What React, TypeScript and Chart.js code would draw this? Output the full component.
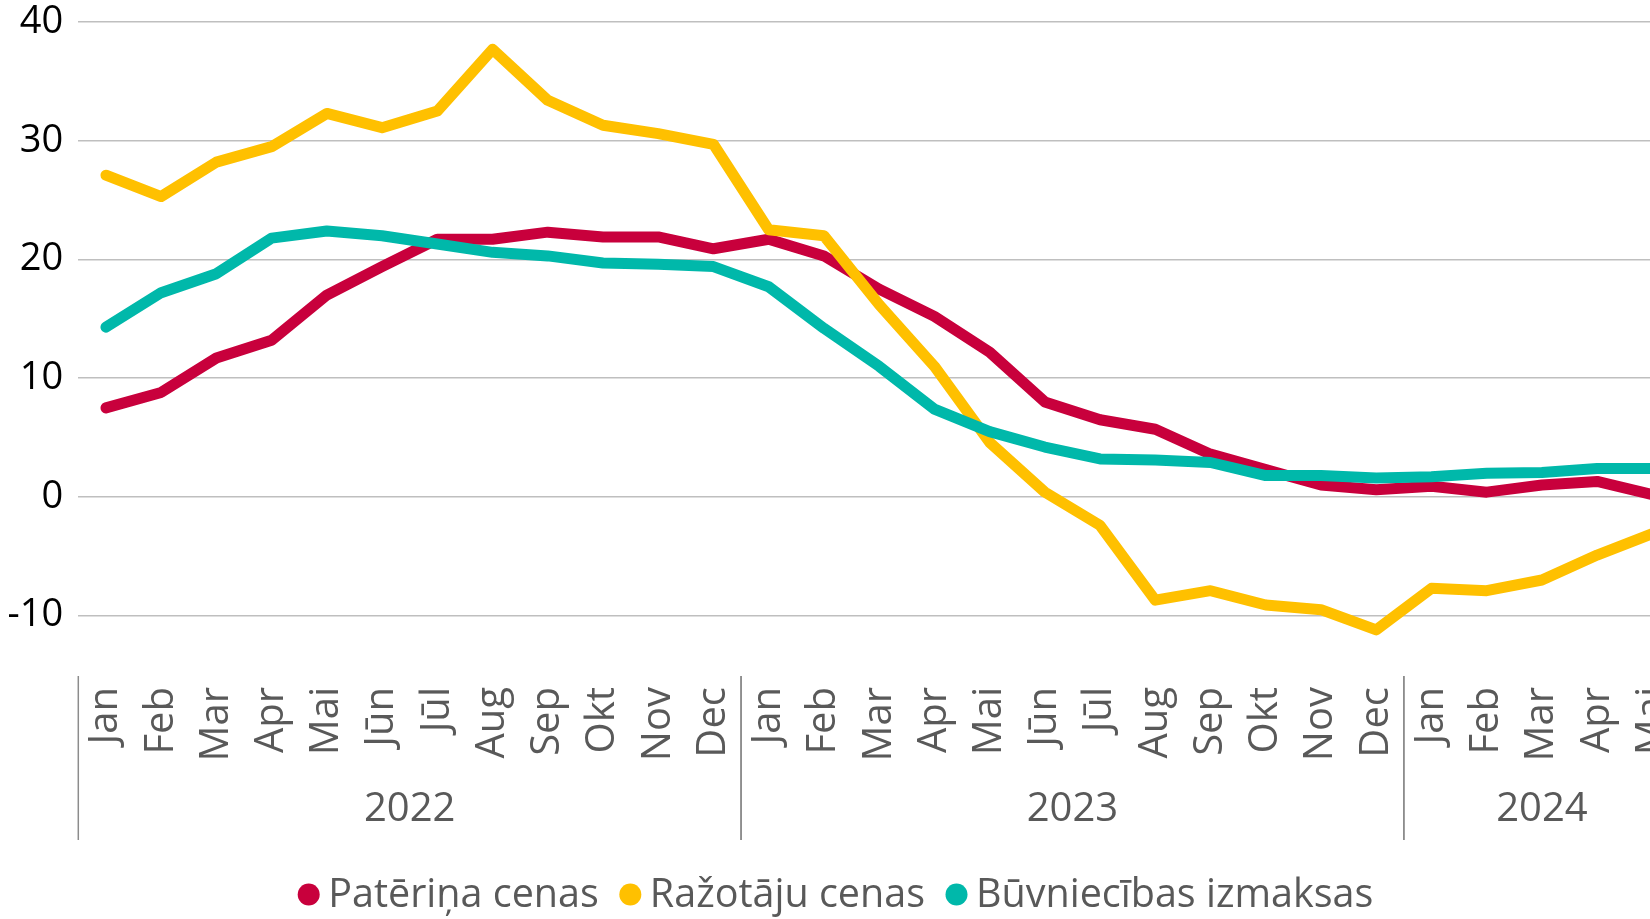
import React, { useEffect, useRef } from 'react';
import { Chart, registerables } from 'chart.js';

Chart.register(...registerables);

const FONT = "'Open Sans', 'Noto Sans', sans-serif";

const months = [
  'Jan', 'Feb', 'Mar', 'Apr', 'Mai', 'Jūn', 'Jūl', 'Aug', 'Sep', 'Okt', 'Nov', 'Dec',
  'Jan', 'Feb', 'Mar', 'Apr', 'Mai', 'Jūn', 'Jūl', 'Aug', 'Sep', 'Okt', 'Nov', 'Dec',
  'Jan', 'Feb', 'Mar', 'Apr', 'Mai',
];
const years = ['2022', '2023', '2024'];
const monthsPerYear = [12, 12, 5];

const consumerPrices = [
  7.5, 8.8, 11.7, 13.2, 17.0, 19.4, 21.7, 21.7, 22.3, 21.9, 21.9, 20.9,
  21.7, 20.3, 17.5, 15.2, 12.2, 8.0, 6.5, 5.7, 3.6, 2.3, 1.0, 0.6,
  0.9, 0.4, 1.0, 1.3, 0.2,
];
const producerPrices = [
  27.1, 25.3, 28.2, 29.5, 32.3, 31.1, 32.5, 37.7, 33.4, 31.3, 30.6, 29.7,
  22.5, 22.0, 16.2, 11.0, 4.6, 0.4, -2.4, -8.7, -7.9, -9.1, -9.5, -11.2,
  -7.7, -7.9, -7.0, -4.9, -3.1,
];
const constructionCosts = [
  14.3, 17.2, 18.8, 21.8, 22.4, 22.0, 21.3, 20.6, 20.3, 19.7, 19.6, 19.4,
  17.7, 14.2, 11.0, 7.4, 5.5, 4.2, 3.2, 3.1, 2.9, 1.8, 1.8, 1.6,
  1.7, 2.0, 2.05, 2.4, 2.4,
];
const yTicks = [-10, 0, 10, 20, 30, 40];
const yMin = -15;
const yMax = 40;

const seriesNames = ['Patēriņa cenas', 'Ražotāju cenas', 'Būvniecības izmaksas'];
const seriesColors = ['#C8003C', '#FFC000', '#00B8AA'];

const groupsAndLegend = {
  id: 'groupsAndLegend',
  afterDraw(chart: any) {
    const ctx = chart.ctx;
    const xs = chart.scales.x;
    const area = chart.chartArea;
    const band = xs.getPixelForValue(1) - xs.getPixelForValue(0);
    ctx.save();
    // year groups
    let start = 0;
    ctx.strokeStyle = '#8C8C8C';
    ctx.lineWidth = 1.5;
    ctx.font = `40px ${FONT}`;
    ctx.fillStyle = '#595959';
    ctx.textAlign = 'center';
    ctx.textBaseline = 'alphabetic';
    years.forEach((yr, i) => {
      const n = monthsPerYear[i];
      const left = xs.getPixelForValue(start) - band / 2;
      const right = xs.getPixelForValue(start + n - 1) + band / 2;
      [left, right].forEach((px) => {
        ctx.beginPath();
        ctx.moveTo(px, area.bottom + 1);
        ctx.lineTo(px, area.bottom + 165);
        ctx.stroke();
      });
      ctx.fillText(yr, (left + right) / 2, area.bottom + 146);
      start += n;
    });
    // legend
    ctx.font = `39.5px ${FONT}`;
    ctx.textAlign = 'left';
    const r = 11;
    const markGap = 19.5;
    const itemGap = 20.5;
    const widths = seriesNames.map((s) => ctx.measureText(s).width);
    let total = 0;
    widths.forEach((w, i) => {
      total += r + markGap + w + (i < widths.length - 1 ? itemGap : 0);
    });
    const center = 835.5;
    let x = center - total / 2;
    const cy = 894.5;
    seriesNames.forEach((s, i) => {
      const cx = x + r;
      ctx.beginPath();
      ctx.arc(cx, cy, r, 0, Math.PI * 2);
      ctx.fillStyle = seriesColors[i];
      ctx.fill();
      ctx.fillStyle = '#595959';
      ctx.fillText(s, cx + markGap, 907);
      x = cx + markGap + widths[i] + itemGap;
    });
    ctx.restore();
  },
};

export default function App() {
  const ref = useRef<HTMLCanvasElement | null>(null);
  useEffect(() => {
    if (!ref.current) return;
    const series = [consumerPrices, producerPrices, constructionCosts];
    const chart = new Chart(ref.current, {
      type: 'line',
      data: {
        labels: months,
        datasets: series.map((d, i) => ({
          label: seriesNames[i],
          data: d,
          borderColor: seriesColors[i],
          backgroundColor: seriesColors[i],
          borderWidth: 11,
          pointRadius: 0,
          tension: 0,
          borderCapStyle: 'round',
          borderJoinStyle: 'round',
          order: 3 - i,
        })),
      },
      options: {
        animation: false,
        responsive: false,
        maintainAspectRatio: false,
        layout: { padding: { top: 22, left: 0, right: 0, bottom: 0 } },
        plugins: { legend: { display: false }, tooltip: { enabled: false } },
        scales: {
          x: {
            type: 'category',
            offset: true,
            grid: { display: false, drawTicks: false },
            border: { display: false },
            ticks: {
              autoSkip: false,
              maxRotation: 90,
              minRotation: 90,
              padding: 12,
              color: '#595959',
              font: { family: FONT, size: 40 },
            },
            afterFit: (s: any) => {
              s.height = 244;
              s.paddingLeft = 0;
              s.paddingRight = 0;
            },
          },
          y: {
            min: yMin,
            max: yMax,
            grid: { color: '#BFBFBF', lineWidth: 1.5, drawTicks: false },
            border: { display: false },
            ticks: {
              padding: 15,
              color: '#000000',
              font: { family: FONT, size: 38 },
            },
            afterBuildTicks: (s: any) => {
              s.ticks = yTicks.map((v) => ({ value: v }));
            },
            afterFit: (s: any) => {
              s.width = 78.3;
              s.paddingTop = 0;
              s.paddingBottom = 0;
            },
          },
        },
      } as any,
      plugins: [groupsAndLegend],
    });
    return () => chart.destroy();
  }, []);

  return (
    <div
      style={{
        position: 'fixed',
        left: 0,
        top: 0,
        width: 1650,
        height: 919,
        overflow: 'hidden',
        background: '#ffffff',
      }}
    >
      <canvas
        ref={ref}
        width={1680}
        height={919}
        style={{ display: 'block', width: 1680, height: 919 }}
      />
    </div>
  );
}
